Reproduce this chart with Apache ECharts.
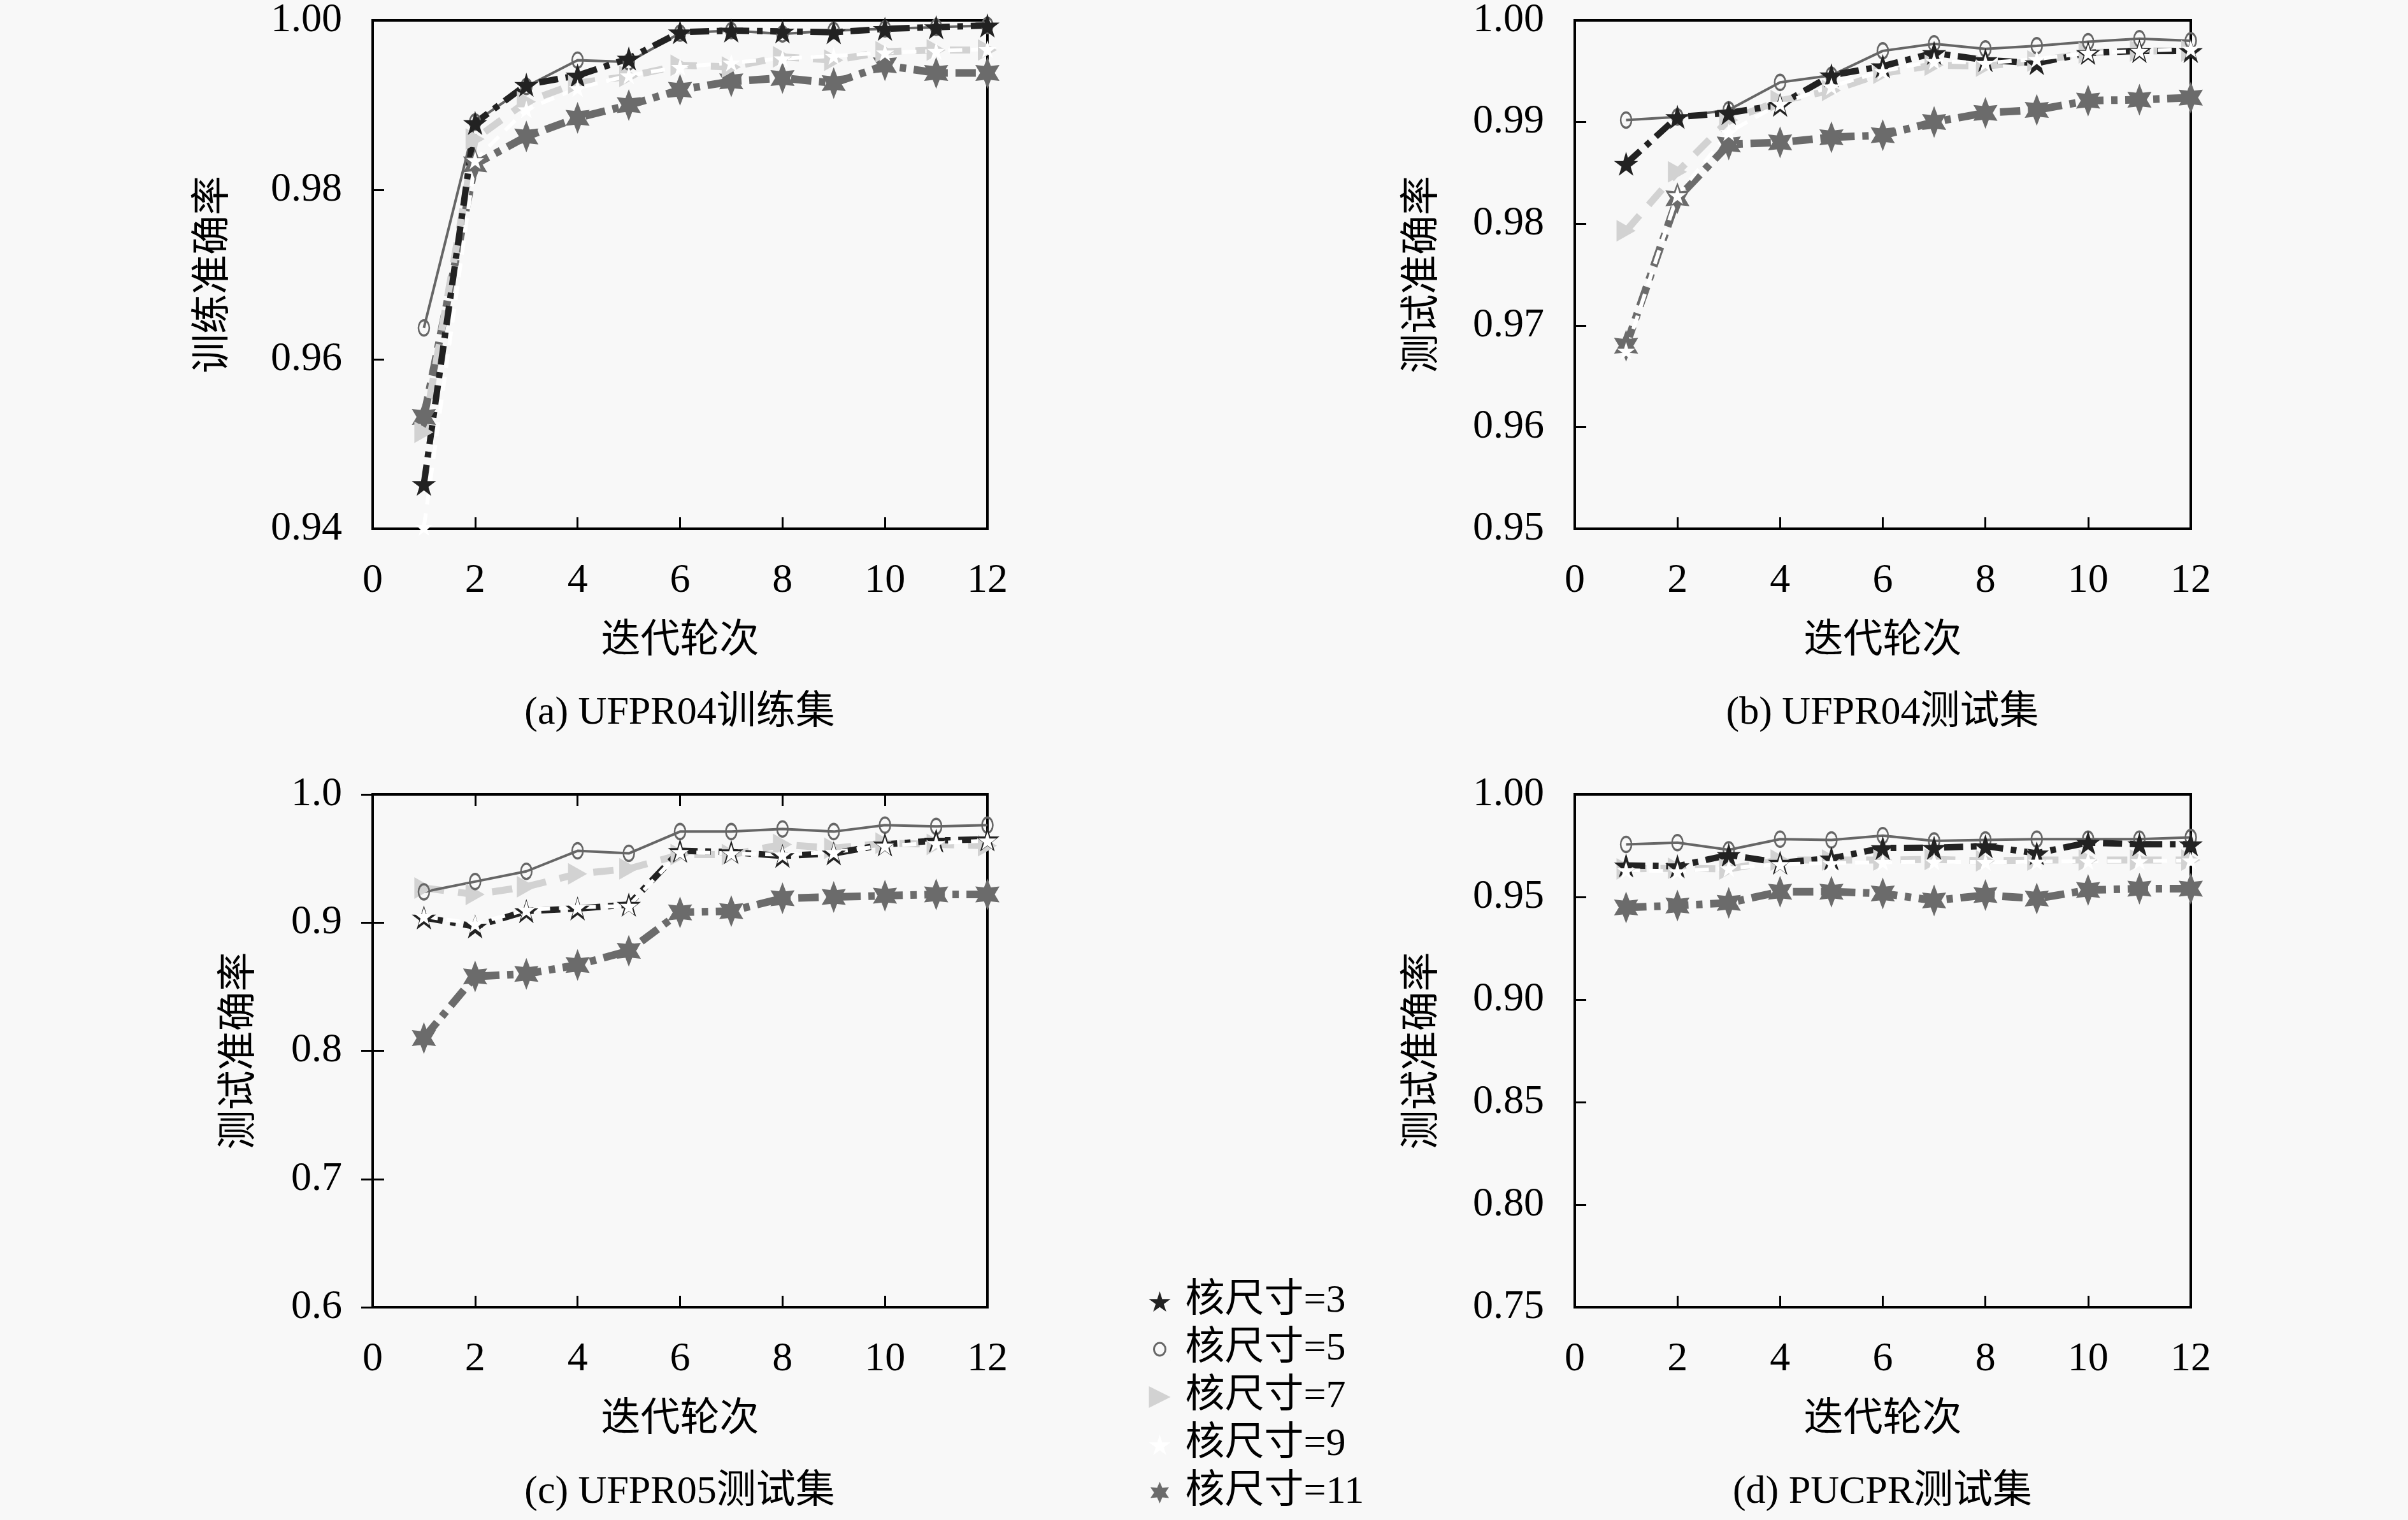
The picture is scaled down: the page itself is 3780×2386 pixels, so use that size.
<!DOCTYPE html>
<html>
<head>
<meta charset="utf-8">
<script src="https://cdn.jsdelivr.net/npm/echarts@6/dist/echarts.min.js"></script>
<style>
  html, body { margin: 0; padding: 0; background: #f8f8f8; }
  #chart { width: 3780px; height: 2386px; }
</style>
</head>
<body>
<div id="chart"></div>
<script>
// 迭代轮次
const epochs = [1, 2, 3, 4, 5, 6, 7, 8, 9, 10, 11, 12];
const kernelNames = ['核尺寸=3', '核尺寸=5', '核尺寸=7', '核尺寸=9', '核尺寸=11'];
const xTicks = [0, 2, 4, 6, 8, 10, 12];

// (a) UFPR04训练集
const a3 = [0.9453, 0.9879, 0.9924, 0.9935, 0.9955, 0.9986, 0.9988, 0.9987, 0.9986, 0.9990, 0.9992, 0.9994];
const a5 = [0.9637, 0.9880, 0.9922, 0.9953, 0.9951, 0.9985, 0.9988, 0.9984, 0.9988, 0.9990, 0.9992, 0.9994];
const a7 = [0.9514, 0.9860, 0.9904, 0.9926, 0.9934, 0.9947, 0.9945, 0.9957, 0.9953, 0.9963, 0.9965, 0.9965];
const a9 = [0.9402, 0.9835, 0.9895, 0.9920, 0.9935, 0.9945, 0.9950, 0.9955, 0.9958, 0.9962, 0.9964, 0.9966];
const a11 = [0.9532, 0.9830, 0.9863, 0.9885, 0.9900, 0.9918, 0.9928, 0.9932, 0.9926, 0.9947, 0.9938, 0.9938];

// (b) UFPR04测试集
const b3 = [0.9859, 0.9905, 0.9909, 0.9917, 0.9946, 0.9955, 0.9968, 0.9961, 0.9958, 0.9968, 0.9970, 0.9970];
const b5 = [0.9902, 0.9905, 0.9912, 0.9939, 0.9946, 0.9970, 0.9977, 0.9972, 0.9975, 0.9979, 0.9982, 0.9980];
const b7 = [0.9793, 0.9851, 0.9902, 0.9921, 0.9931, 0.9948, 0.9956, 0.9955, 0.9960, 0.9968, 0.9970, 0.9970];
const b9 = [0.9675, 0.9828, 0.9890, 0.9918, 0.9935, 0.9950, 0.9960, 0.9958, 0.9962, 0.9968, 0.9970, 0.9972];
const b11 = [0.9680, 0.9825, 0.9878, 0.9880, 0.9885, 0.9887, 0.9900, 0.9909, 0.9912, 0.9921, 0.9922, 0.9924];

// (c) UFPR05测试集
const c3 = [0.904, 0.897, 0.909, 0.911, 0.914, 0.956, 0.955, 0.952, 0.954, 0.961, 0.964, 0.965];
const c5 = [0.924, 0.932, 0.940, 0.956, 0.954, 0.971, 0.971, 0.973, 0.971, 0.976, 0.975, 0.976];
const c7 = [0.927, 0.922, 0.928, 0.938, 0.942, 0.953, 0.953, 0.961, 0.958, 0.962, 0.961, 0.960];
const c9 = [0.905, 0.899, 0.910, 0.912, 0.913, 0.955, 0.954, 0.953, 0.955, 0.960, 0.962, 0.964];
const c11 = [0.810, 0.858, 0.860, 0.867, 0.878, 0.908, 0.909, 0.919, 0.920, 0.921, 0.922, 0.922];

// (d) PUCPR测试集
const d3 = [0.9654, 0.9650, 0.9705, 0.9667, 0.9688, 0.9739, 0.9740, 0.9748, 0.9713, 0.9765, 0.9757, 0.9757];
const d5 = [0.9756, 0.9765, 0.9730, 0.9782, 0.9778, 0.9799, 0.9773, 0.9778, 0.9782, 0.9782, 0.9782, 0.9790];
const d7 = [0.9637, 0.9640, 0.9637, 0.9680, 0.9680, 0.9680, 0.9683, 0.9676, 0.9680, 0.9680, 0.9680, 0.9680];
const d9 = [0.9630, 0.9625, 0.9640, 0.9660, 0.9665, 0.9670, 0.9672, 0.9670, 0.9672, 0.9675, 0.9675, 0.9678];
const d11 = [0.9449, 0.9458, 0.9471, 0.9526, 0.9526, 0.9517, 0.9483, 0.9509, 0.9492, 0.9534, 0.9540, 0.9540];

// 各子图 y 轴范围
const yMins = [0.94, 0.95, 0.6, 0.75];
const yMaxs = [1.00, 1.00, 1.0, 1.00];
const yIntervals = [0.02, 0.01, 0.1, 0.05];
const yDigits = [2, 2, 1, 2];
const yNames = ['训练准确率', '测试准确率', '测试准确率', '测试准确率'];
const captions = ['(a) UFPR04训练集', '(b) UFPR04测试集', '(c) UFPR05测试集', '(d) PUCPR测试集'];

const panels = [
  [a3, a5, a7, a9, a11],
  [b3, b5, b7, b9, b11],
  [c3, c5, c7, c9, c11],
  [d3, d5, d7, d9, d11]
];

(function () {
  let myChart = echarts.init(document.getElementById('chart'));
  const FONT = "'Liberation Serif', 'Noto Sans CJK SC', serif";
  const bg = '#f8f8f8';

  // 标记形状
  const STAR = 'path://M50,0 L61,35 L98,35 L68,57 L79,91 L50,70 L21,91 L32,57 L2,35 L39,35 Z';
  const HEXA = 'path://M50,0 L62,28 L93,25 L76,50 L93,75 L62,72 L50,100 L38,72 L7,75 L24,50 L7,25 L38,28 Z';
  const TRI = 'path://M0,0 L100,50 L0,100 Z';
  // 图例用的小圆圈（四角留白）
  const RING = 'path://M0,0 L0.01,0 M34,34 L34.01,34 M8,17 A9,10 0 1,1 26,17 A9,10 0 1,1 8,17 Z';

  // 每条曲线的样式
  const styles = [
    { color: '#222222', width: 10, dash: [30, 12, 9, 12], symbol: STAR, size: 38, fill: '#222222' },
    { color: '#666666', width: 4, dash: 'solid', symbol: 'circle', size: [17, 24], fill: 'rgba(0,0,0,0)' },
    { color: '#d2d2d2', width: 11, dash: [32, 22], symbol: TRI, size: [30, 34], fill: '#d2d2d2' },
    { color: '#ffffff', width: 6, dash: [22, 14], symbol: STAR, size: 28, fill: '#ffffff' },
    { color: '#6b6b6b', width: 12, dash: [32, 12, 10, 12], symbol: HEXA, size: [38, 50], fill: '#6b6b6b' }
  ];
  // 绘制顺序：底层先画
  const drawOrder = [4, 2, 1, 0, 3];

  // 网格位置
  const grids = [
    { left: 585, right: 2230, top: 30, bottom: 1556 },
    { left: 2472, right: 341, top: 30, bottom: 1556 },
    { left: 585, right: 2230, top: 1247, bottom: 334 },
    { left: 2472, right: 341, top: 1247, bottom: 334 }
  ];
  const nameGaps = [217, 206, 176, 206];

  let xAxis = [], yAxis = [], series = [], grid = [];
  grids.forEach(function (g, i) {
    grid.push(Object.assign({ show: true, borderColor: '#000', borderWidth: 4, backgroundColor: 'transparent' }, g));
    xAxis.push({
      type: 'value', gridIndex: i, min: 0, max: 12, interval: 2,
      name: '迭代轮次', nameLocation: 'middle', nameGap: 147,
      nameTextStyle: { fontFamily: FONT, fontSize: 62, color: '#000' },
      axisLine: { show: false },
      axisTick: { inside: true, length: 18, lineStyle: { color: '#000', width: 3 } },
      axisLabel: { margin: 50, fontFamily: FONT, fontSize: 64, color: '#000' },
      splitLine: { show: false }
    });
    yAxis.push({
      type: 'value', gridIndex: i, min: yMins[i], max: yMaxs[i], interval: yIntervals[i],
      name: yNames[i], nameLocation: 'middle', nameGap: nameGaps[i],
      nameTextStyle: { fontFamily: FONT, fontSize: 62, color: '#000' },
      axisLine: { show: false },
      axisTick: { inside: true, length: 18, lineStyle: { color: '#000', width: 3 } },
      axisLabel: {
        margin: 48, fontFamily: FONT, fontSize: 64, color: '#000',
        formatter: function (v) { return v.toFixed(yDigits[i]); }
      },
      splitLine: { show: false }
    });
  });

  // (c) 图上边和右边也有刻度
  xAxis.push({
    type: 'value', gridIndex: 2, position: 'top', min: 0, max: 12, interval: 2,
    axisLine: { show: false }, axisLabel: { show: false }, splitLine: { show: false },
    axisTick: { inside: true, length: 18, lineStyle: { color: '#000', width: 3 } }
  });
  yAxis.push({
    type: 'value', gridIndex: 2, position: 'right', min: 0.6, max: 1.0, interval: 0.1,
    axisLine: { show: false }, axisLabel: { show: false }, splitLine: { show: false },
    axisTick: { inside: true, length: 18, lineStyle: { color: '#000', width: 3 } }
  });

  panels.forEach(function (lines, i) {
    drawOrder.forEach(function (k) {
      const s = styles[k];
      series.push({
        name: kernelNames[k],
        type: 'line',
        xAxisIndex: i,
        yAxisIndex: i,
        data: epochs.map(function (e, j) { return [e, lines[k][j]]; }),
        symbol: s.symbol,
        symbolSize: s.size,
        showAllSymbol: true,
        clip: false,
        animation: false,
        lineStyle: { color: s.color, width: s.width, type: s.dash },
        itemStyle: { color: s.fill, borderColor: s.color, borderWidth: k === 1 ? 3 : 0 },
        emphasis: { disabled: true }
      });
    });
  });

  let option = {
    backgroundColor: bg,
    animation: false,
    grid: grid,
    xAxis: xAxis,
    yAxis: yAxis,
    legend: {
      orient: 'vertical',
      left: 1797,
      top: 2006,
      itemWidth: 34,
      itemHeight: 34,
      itemGap: 11,
      selectedMode: false,
      textStyle: { fontFamily: FONT, fontSize: 62, lineHeight: 64, color: '#000', padding: [0, 0, 0, 18] },
      data: kernelNames.map(function (n, k) {
        return {
          name: n,
          icon: k === 1 ? RING : styles[k].symbol,
          itemStyle: { color: styles[k].fill, borderColor: styles[k].color, borderWidth: k === 1 ? 3 : 0 }
        };
      })
    },
    graphic: captions.map(function (t, i) {
      return {
        type: 'text',
        x: i % 2 === 0 ? 1067 : 2955,
        y: i < 2 ? 1120 : 2343,
        style: { text: t, font: '62px ' + FONT, fill: '#000', textAlign: 'center', textVerticalAlign: 'middle' }
      };
    }),
    series: series
  };
  myChart.setOption(option);
  window.addEventListener('resize', function () {
    myChart.resize();
  });
})();
</script>
</body>
</html>
